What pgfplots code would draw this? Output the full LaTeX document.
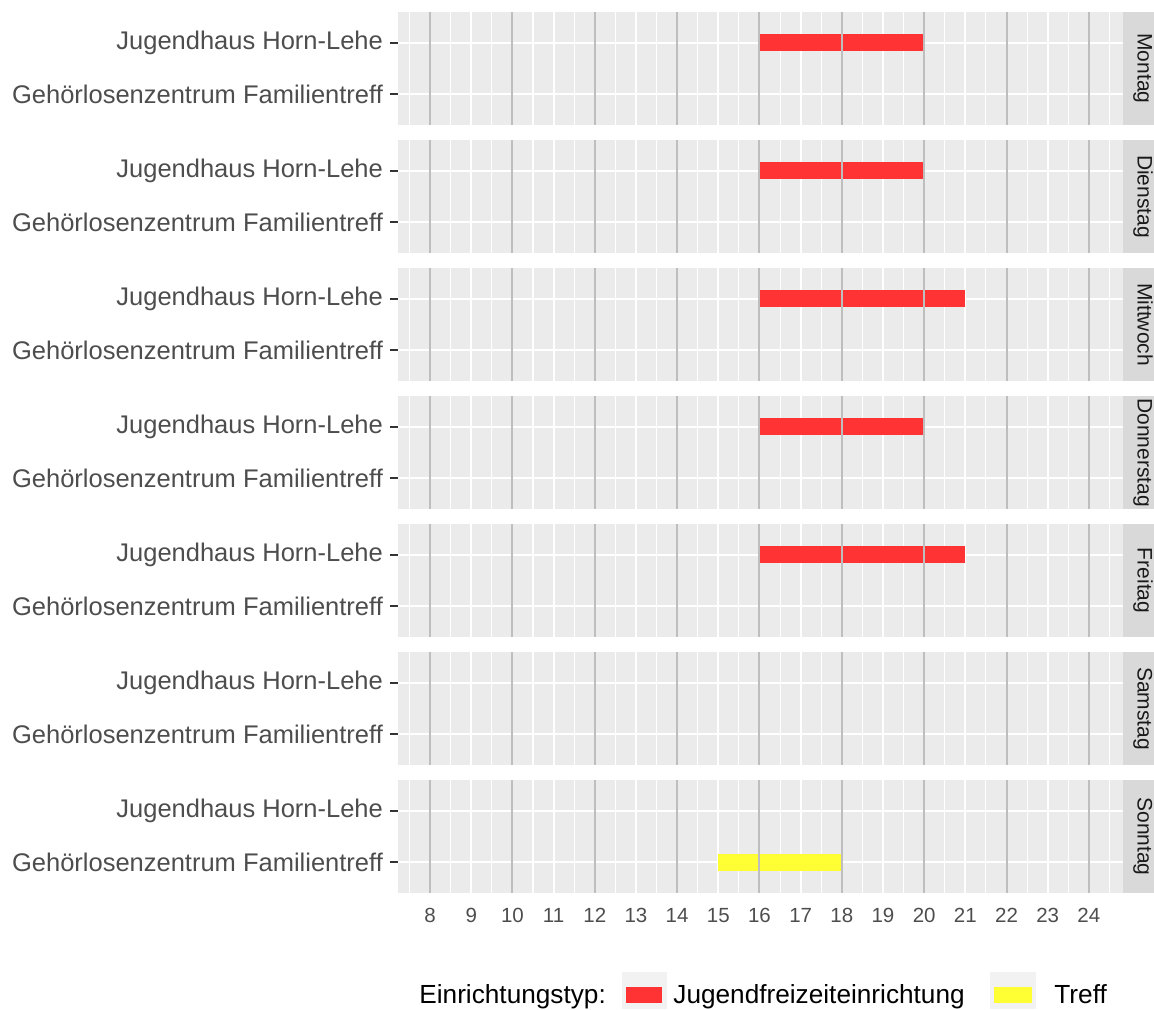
\documentclass[border=0pt]{standalone}
\usepackage{pgfplots}
\pgfplotsset{compat=1.18}
\usepackage{fontspec}
\setmainfont{Liberation Sans}

\definecolor{panelbg}{HTML}{EBEBEB}
\definecolor{stripbg}{HTML}{D9D9D9}
\definecolor{keybg}{HTML}{F2F2F2}
\definecolor{vgray}{HTML}{BEBEBE}
\definecolor{tickgray}{HTML}{333333}
\definecolor{labelgray}{HTML}{4D4D4D}
\definecolor{striptext}{HTML}{1A1A1A}
\definecolor{jfred}{HTML}{FF3333}
\definecolor{trefy}{HTML}{FFFF33}

\pgfplotsset{
  day/.style={
    scale only axis, width=362.5pt, height=56.5pt,
    anchor=north west,
    xmin=7.22, xmax=24.83, ymin=0.4, ymax=2.6,
    axis line style={draw=none},
    axis background/.style={fill=panelbg},
    clip=false,
    xtick={8,...,24}, minor xtick={7.5,8.5,...,24.5},
    ytick={1,2},
    yticklabels={Gehörlosenzentrum Familientreff,Jugendhaus Horn-Lehe},
    grid=both,
    major grid style={white,line width=1pt},
    minor grid style={white,line width=0.55pt},
    tick align=outside, xtick pos=left, ytick pos=left,
    major tick length=4pt, minor tick length=0pt,
    tick style={tickgray,line width=0.75pt},
    yticklabel style={font=\fontsize{12.75}{14}\selectfont, text=labelgray},
    xticklabel style={font=\fontsize{10.25}{12}\selectfont, text=labelgray},
    xticklabels={}, xtick style={draw=none},
  },
  bottom/.style={
    xticklabels={8,9,10,11,12,13,14,15,16,17,18,19,20,21,22,23,24},
    xtick style={tickgray,line width=0.75pt},
  },
  bar/.style={no marks, line width=8.65pt, line cap=butt, forget plot},
}

% grey hour lines on top of the bars, and the facet strip
\newcommand{\daydecor}[1]{%
  \pgfplotsinvokeforeach{8,10,12,14,16,18,20,22,24}{%
    \draw[vgray,line width=1pt] (axis cs:##1,0.4) -- (axis cs:##1,2.6);}
  \fill[stripbg] (rel axis cs:1,0) rectangle ([xshift=15.5pt]rel axis cs:1,1);
  \node[rotate=-90,anchor=base,inner sep=0pt,text=striptext,
        font=\fontsize{10.5}{12}\selectfont]
    at ([xshift=7.25pt]rel axis cs:1,0.5) {#1};
}

\begin{document}
\begin{tikzpicture}
\useasboundingbox (0,0) rectangle (577pt,-504.5pt);

\begin{axis}[day, at={(199pt,-6pt)}]
\addplot[bar, jfred] coordinates {(16,2) (20,2)};
\daydecor{Montag}
\end{axis}

\begin{axis}[day, at={(199pt,-70pt)}]
\addplot[bar, jfred] coordinates {(16,2) (20,2)};
\daydecor{Dienstag}
\end{axis}

\begin{axis}[day, at={(199pt,-134pt)}]
\addplot[bar, jfred] coordinates {(16,2) (21,2)};
\daydecor{Mittwoch}
\end{axis}

\begin{axis}[day, at={(199pt,-198pt)}]
\addplot[bar, jfred] coordinates {(16,2) (20,2)};
\daydecor{Donnerstag}
\end{axis}

\begin{axis}[day, at={(199pt,-262pt)}]
\addplot[bar, jfred] coordinates {(16,2) (21,2)};
\daydecor{Freitag}
\end{axis}

\begin{axis}[day, at={(199pt,-326pt)}]
\daydecor{Samstag}
\end{axis}

\begin{axis}[day, bottom, at={(199pt,-390pt)}]
\addplot[bar, trefy] coordinates {(15,1) (18,1)};
\daydecor{Sonntag}
\end{axis}

% legend
\begin{scope}[font=\fontsize{13.1}{15}\selectfont]
\node[anchor=base west,inner sep=0pt] at (209.5pt,-501.5pt) {Einrichtungstyp:};
\fill[keybg] (311pt,-486pt) rectangle (333.5pt,-504.5pt);
\fill[jfred] (313pt,-493.5pt) rectangle (331pt,-501.5pt);
\node[anchor=base west,inner sep=0pt] at (336.5pt,-501.5pt) {Jugendfreizeiteinrichtung};
\fill[keybg] (495pt,-486pt) rectangle (518pt,-504.5pt);
\fill[trefy] (497pt,-493.5pt) rectangle (516pt,-501.5pt);
\node[anchor=base west,inner sep=0pt] at (527pt,-501.5pt) {Treff};
\end{scope}
\end{tikzpicture}
\end{document}
